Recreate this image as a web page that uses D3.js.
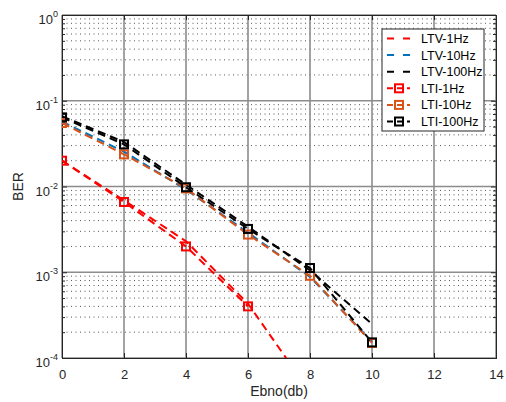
<!DOCTYPE html>
<html>
<head>
<meta charset="utf-8">
<script src="https://cdn.jsdelivr.net/npm/d3@7"></script>
<style>
  body { margin: 0; background: #fff; }
  text { font-family: "Liberation Sans", Arial, sans-serif; }
</style>
</head>
<body>
<div id="chart"></div>
<script>
const ebno = [0, 2, 4, 6, 8, 10];

const ltv1 = [0.0200, 0.0069, 0.0023, 0.00043, 0.00004];
const ltv10 = [0.057, 0.0255, 0.0092, 0.0029, 0.00088, 0.000155];
const ltv100 = [0.066, 0.033, 0.0105, 0.0034, 0.00105, 0.00025];
const lti1 = [0.0200, 0.0066, 0.0020, 0.00040];
const lti10 = [0.055, 0.0237, 0.0095, 0.00275, 0.00091, 0.00015];
const lti100 = [0.064, 0.031, 0.0098, 0.0032, 0.00112, 0.000152];

const seriesNames = ["LTV-1Hz", "LTV-10Hz", "LTV-100Hz", "LTI-1Hz", "LTI-10Hz", "LTI-100Hz"];
const seriesValues = [ltv1, ltv10, ltv100, lti1, lti10, lti100];
const seriesColors = ["#ff0000", "#0072bd", "#000000", "#ff0000", "#d95319", "#000000"];
const seriesMarkers = [false, false, false, true, true, true];

const xTicks = [0, 2, 4, 6, 8, 10, 12, 14];
const yExps = [0, -1, -2, -3, -4];

const W = 506, H = 402;
const margin = { top: 15, right: 10, bottom: 44, left: 62 };
const width = W - margin.left - margin.right,
  height = H - margin.top - margin.bottom;

const svg = d3.select("#chart").append("svg")
  .attr("width", W).attr("height", H);

const defs = svg.append("defs");
defs.append("clipPath").attr("id", "clip")
  .append("rect").attr("width", width).attr("height", height);

const g = svg.append("g")
  .attr("transform", "translate(" + margin.left + "," + margin.top + ")");

const xScale = d3.scaleLinear().domain([0, 14]).range([0, width]);
const yScale = d3.scaleLog().domain([1e-4, 1]).range([height, 0]);

// minor values for grid
const minor = [];
yExps.slice(0, 4).forEach((e) => {
  for (let k = 2; k <= 9; k++) minor.push(k * Math.pow(10, e - 1));
});

// dotted minor grid
g.append("g").selectAll("line").data(minor).join("line")
  .attr("x1", 0).attr("x2", width)
  .attr("y1", (d) => yScale(d)).attr("y2", (d) => yScale(d))
  .attr("stroke", "#555").attr("stroke-width", 1)
  .attr("stroke-dasharray", "1,3.5");

// major grid
g.append("g").selectAll("line").data(xTicks).join("line")
  .attr("x1", (d) => xScale(d)).attr("x2", (d) => xScale(d))
  .attr("y1", 0).attr("y2", height)
  .attr("stroke", "#8c8c8c").attr("stroke-width", 1.6);

g.append("g").selectAll("line").data(yExps).join("line")
  .attr("x1", 0).attr("x2", width)
  .attr("y1", (d) => yScale(Math.pow(10, d)))
  .attr("y2", (d) => yScale(Math.pow(10, d)))
  .attr("stroke", "#8c8c8c").attr("stroke-width", 1.6);

// axes with inward ticks
const axisColor = "#262626";
const xAxis = d3.axisBottom(xScale).tickValues(xTicks).tickSize(-5).tickPadding(12);
const xAxisTop = d3.axisTop(xScale).tickValues(xTicks).tickSize(-5).tickFormat("");
const yMajorVals = yExps.map((e) => Math.pow(10, e));
const yAxis = d3.axisLeft(yScale).tickValues(yMajorVals).tickSize(-5).tickFormat("");
const yAxisR = d3.axisRight(yScale).tickValues(yMajorVals).tickSize(-5).tickFormat("");
const yMinorL = d3.axisLeft(yScale).tickValues(minor).tickSize(-3).tickFormat("");
const yMinorR = d3.axisRight(yScale).tickValues(minor).tickSize(-3).tickFormat("");

const xAxisG = g.append("g").attr("transform", "translate(0," + height + ")").call(xAxis);
g.append("g").call(xAxisTop);
g.append("g").call(yAxis);
g.append("g").call(yMinorL);
g.append("g").attr("transform", "translate(" + width + ",0)").call(yAxisR);
g.append("g").attr("transform", "translate(" + width + ",0)").call(yMinorR);

g.selectAll(".domain").attr("stroke", axisColor);
g.selectAll(".tick line").attr("stroke", axisColor);
xAxisG.selectAll("text")
  .attr("font-size", 13).attr("fill", "#262626")
  .attr("font-family", "Liberation Sans, Arial, sans-serif");

// y tick labels 10^n
const yLab = g.append("g").selectAll("text").data(yExps).join("text")
  .attr("x", -4)
  .attr("y", (d) => yScale(Math.pow(10, d)) + 9)
  .attr("text-anchor", "end")
  .attr("fill", "#262626")
  .attr("font-size", 13);
yLab.append("tspan").text("10");
yLab.append("tspan").attr("dy", -7).attr("font-size", 9)
  .text((d) => (d < 0 ? "-" + -d : d));

// axis labels
svg.append("text")
  .attr("x", margin.left + width / 2).attr("y", 396)
  .attr("text-anchor", "middle").attr("font-size", 14).attr("fill", "#262626")
  .text("Ebno(db)");
svg.append("text")
  .attr("transform", "translate(23," + (margin.top + height / 2) + ") rotate(-90)")
  .attr("text-anchor", "middle").attr("font-size", 14).attr("fill", "#262626")
  .text("BER");

// series
const line = d3.line()
  .x((d) => xScale(d.x))
  .y((d) => yScale(d.y));

const plot = g.append("g").attr("clip-path", "url(#clip)");

seriesValues.forEach((vals, i) => {
  const pts = vals.map((v, j) => ({ x: ebno[j], y: v }));
  plot.append("path")
    .datum(pts)
    .attr("fill", "none")
    .attr("stroke", seriesColors[i])
    .attr("stroke-width", 2)
    .attr("stroke-dasharray", "8,5")
    .attr("d", line);
});

// markers on top
seriesValues.forEach((vals, i) => {
  if (!seriesMarkers[i]) return;
  const pts = vals.map((v, j) => ({ x: ebno[j], y: v }));
  plot.append("g").selectAll("rect").data(pts).join("rect")
    .attr("x", (d) => xScale(d.x) - 4)
    .attr("y", (d) => yScale(d.y) - 4)
    .attr("width", 8).attr("height", 8)
    .attr("fill", "none")
    .attr("stroke", seriesColors[i])
    .attr("stroke-width", 2);
});

// legend
const legend = svg.append("g").attr("transform", "translate(382,29)");
legend.append("rect")
  .attr("width", 102).attr("height", 102)
  .attr("fill", "#fff").attr("stroke", axisColor).attr("stroke-width", 1);

const items = legend.selectAll("g.item").data(seriesNames).join("g")
  .attr("class", "item")
  .attr("transform", (d, i) => "translate(0," + (9.5 + i * 16.6) + ")");

items.append("line")
  .attr("x1", 5).attr("x2", 28)
  .attr("stroke", (d, i) => seriesColors[i])
  .attr("stroke-width", 2)
  .attr("stroke-dasharray", (d, i) => (seriesMarkers[i] ? "6,4" : "7,9"));

items.filter((d, i) => seriesMarkers[i]).append("rect")
  .attr("x", 13).attr("y", -4).attr("width", 8).attr("height", 8)
  .attr("fill", "none")
  .attr("stroke", (d) => seriesColors[seriesNames.indexOf(d)])
  .attr("stroke-width", 2);

items.append("text")
  .attr("x", 39).attr("y", 4.5)
  .attr("font-size", 12.5).attr("fill", "#000")
  .text((d) => d);
</script>
</body>
</html>
